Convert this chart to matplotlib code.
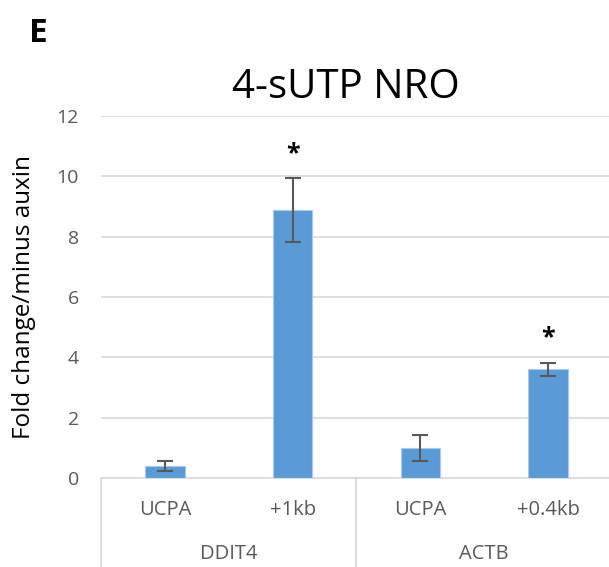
import numpy as np
import matplotlib.pyplot as plt

# values
genes = ["DDIT4", "ACTB"]
sites = ["UCPA", "+1kb", "UCPA", "+0.4kb"]
fold = [0.40, 8.88, 0.99, 3.60]
err = [0.17, 1.05, 0.42, 0.22]
signif = [False, True, False, True]
yticks = [0, 2, 4, 6, 8, 10, 12]

W, H = 609, 567
fig = plt.figure(figsize=(W / 100, H / 100), dpi=100)
plt.rcParams['font.family'] = ['Open Sans', 'DejaVu Sans']

x0, x1 = 101, 612
ytop, ybot = 116, 478
ax = fig.add_axes([x0 / W, 1 - ybot / H, (x1 - x0) / W, (ybot - ytop) / H])

x = np.arange(len(fold))
ax.bar(x, fold, width=0.31, color='#5b9bd5', edgecolor='#a9c8ec', linewidth=0.8, zorder=3)
ax.errorbar(x, fold, yerr=err, fmt='none', ecolor='#595959', elinewidth=1.5,
            capsize=6, capthick=1.5, zorder=4)
for xi, v, e, s in zip(x, fold, err, signif):
    if s:
        ax.text(xi, v + e + 0.4, '*', ha='center', va='bottom', fontsize=18,
                fontweight='bold', color='black')

ax.set_xlim(-0.5, 3.5)
ax.set_ylim(0, 12)
ax.set_yticks(yticks)
ax.yaxis.grid(True, color='#d9d9d9', linewidth=1.2, zorder=0)
ax.set_axisbelow(True)
for sp in ['top', 'right', 'left']:
    ax.spines[sp].set_visible(False)
ax.spines['bottom'].set_color('#d9d9d9')
ax.spines['bottom'].set_linewidth(1.2)
ax.tick_params(axis='y', length=0, labelsize=14, labelcolor='#595959', pad=16)
ax.set_xticks([])

# two-level category axis below the plot
trans = ax.get_xaxis_transform()
ph = ybot - ytop
for xi, lab in zip(x, sites):
    ax.text(xi, -(510 - ybot) / ph, lab, transform=trans, ha='center', va='center',
            fontsize=14.5, color='#595959', clip_on=False)
for gi, g in enumerate(genes):
    ax.text(2 * gi + 0.5, -(554 - ybot) / ph, g, transform=trans, ha='center', va='center',
            fontsize=14.5, color='#595959', clip_on=False)
for xb in [-0.5, 1.5, 3.5]:
    ax.plot([xb, xb], [0, -(H - ybot) / ph], transform=trans, color='#d9d9d9',
            linewidth=1.2, clip_on=False)

ax.set_ylabel('Fold change/minus auxin', fontsize=17.5, color='black', labelpad=15)
fig.text(346 / W, 1 - 88 / H, '4-sUTP NRO', ha='center', va='center', fontsize=29, color='black')
fig.text(29 / W, 1 - 34 / H, 'E', ha='left', va='center', fontsize=24, fontweight='bold', color='black')

fig.savefig('out.png', dpi=100)
